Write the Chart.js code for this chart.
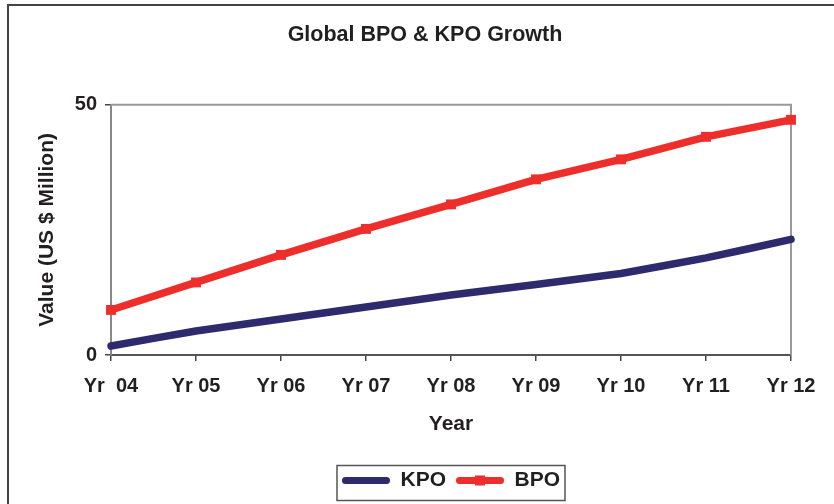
<!DOCTYPE html>
<html>
<head>
<meta charset="utf-8">
<title>Global BPO & KPO Growth</title>
<script src="https://cdn.jsdelivr.net/npm/chart.js@4/dist/chart.umd.min.js"></script>
<style>
  html, body { margin: 0; padding: 0; background: #fff; }
  #wrap { width: 834px; height: 504px; }
</style>
</head>
<body>
<div id="wrap"><canvas id="chart" width="834" height="504"></canvas></div>
<script>
// Years on the horizontal axis
const years = ['Yr  04', 'Yr 05', 'Yr 06', 'Yr 07', 'Yr 08', 'Yr 09', 'Yr 10', 'Yr 11', 'Yr 12'];
// Market value, US $ million
const kpoValues = [1.8, 4.8, 7.2, 9.6, 12.0, 14.1, 16.3, 19.4, 23.1];
const bpoValues = [9.0, 14.5, 20.0, 25.2, 30.1, 35.1, 39.1, 43.6, 47.0];
// Value axis ticks
const valueTicks = [0, 50];

const FONT = '"Liberation Sans", Arial, Helvetica, sans-serif';
const TEXT = '#231f20';
const KPO_COLOR = '#2e2a6e';
const BPO_COLOR = '#ee2e2a';

// Frame around the whole figure, top/right edges of the plot, and the legend box
const framePlugin = {
  id: 'frames',
  afterLayout(chart) {
    // centre the heading over the inner figure frame
    const t = chart.titleBlock;
    if (t) { t.left = 16; t.right = 834; }
  },
  beforeDatasetsDraw(chart) {
    const { ctx, chartArea: a } = chart;
    ctx.save();
    ctx.strokeStyle = '#9a9a9a';
    ctx.lineWidth = 2;
    ctx.beginPath();
    ctx.moveTo(a.left, a.top);
    ctx.lineTo(a.right, a.top);
    ctx.lineTo(a.right, a.bottom);
    ctx.stroke();
    ctx.restore();
  },
  afterDraw(chart) {
    const { ctx } = chart;
    ctx.save();
    ctx.strokeStyle = '#444';
    ctx.lineWidth = 2;
    ctx.strokeRect(8, 5, 900, 600);

    const hb = chart.legend.legendHitBoxes;
    if (hb && hb.length) {
      const first = hb[0], last = hb[hb.length - 1];
      const cy = first.top + first.height / 2;
      ctx.strokeStyle = '#555';
      ctx.lineWidth = 1.5;
      ctx.strokeRect(first.left - 5, cy - 15, (last.left + last.width + 5) - (first.left - 5), 35);
      // marker on the BPO legend line
      const b = hb[1];
      const bw = chart.legend.options.labels.boxWidth;
      ctx.fillStyle = BPO_COLOR;
      ctx.fillRect(b.left + bw / 2 - 5, cy - 5, 10, 10);
    }
    ctx.restore();
  }
};

new Chart(document.getElementById('chart'), {
  type: 'line',
  data: {
    labels: years,
    datasets: [
      {
        label: 'KPO',
        data: kpoValues,
        borderColor: KPO_COLOR,
        backgroundColor: KPO_COLOR,
        borderWidth: 7.5,
        borderCapStyle: 'round',
        borderJoinStyle: 'round',
        pointRadius: 0,
        tension: 0.1,
        clip: false
      },
      {
        label: 'BPO',
        data: bpoValues,
        borderColor: BPO_COLOR,
        backgroundColor: BPO_COLOR,
        borderWidth: 7.5,
        borderJoinStyle: 'round',
        pointStyle: 'rect',
        pointRadius: 7,
        pointBorderWidth: 0,
        tension: 0,
        clip: false
      }
    ]
  },
  options: {
    responsive: false,
    animation: false,
    layout: { padding: { left: 0, right: 43, top: 0, bottom: 3 } },
    plugins: {
      tooltip: { enabled: false },
      title: {
        display: true,
        text: 'Global BPO & KPO Growth',
        color: TEXT,
        font: { family: FONT, size: 21.5, weight: 'bold' },
        padding: { top: 22, bottom: 57 }
      },
      legend: {
        position: 'bottom',
        fullSize: false,
        labels: {
          color: TEXT,
          font: { family: FONT, size: 21, weight: 'bold' },
          boxWidth: 48,
          boxHeight: 7,
          padding: 10,
          useBorderRadius: true,
          borderRadius: 3.5,
          generateLabels(chart) {
            return Chart.defaults.plugins.legend.labels.generateLabels(chart)
              .map(item => Object.assign(item, { lineWidth: 0, strokeStyle: 'rgba(0,0,0,0)' }));
          }
        }
      }
    },
    scales: {
      x: {
        offset: false,
        grid: {
          display: true,
          drawOnChartArea: false,
          drawTicks: true,
          tickLength: 6,
          color: '#444',
          lineWidth: 1.5
        },
        border: { display: true, color: '#555', width: 2 },
        ticks: {
          color: TEXT,
          font: { family: FONT, size: 20, weight: 'bold' },
          padding: 13,
          maxRotation: 0,
          autoSkip: false
        },
        title: {
          display: true,
          text: 'Year',
          color: TEXT,
          font: { family: FONT, size: 21, weight: 'bold' },
          padding: { top: 0, bottom: 23 }
        },
        afterFit(scale) { scale.height = 105; }
      },
      y: {
        min: valueTicks[0],
        max: valueTicks[valueTicks.length - 1],
        afterBuildTicks(scale) { scale.ticks = valueTicks.map(v => ({ value: v })); },
        grid: {
          display: true,
          drawOnChartArea: false,
          drawTicks: true,
          tickLength: 6,
          color: '#444',
          lineWidth: 1.5
        },
        border: { display: true, color: '#888', width: 2 },
        ticks: {
          color: TEXT,
          font: { family: FONT, size: 20, weight: 'bold' },
          padding: 8
        },
        title: {
          display: true,
          text: 'Value (US $ Million)',
          color: TEXT,
          font: { family: FONT, size: 21, weight: 'bold' },
          padding: { top: 35, bottom: 0 }
        },
        afterFit(scale) { scale.width = 111; }
      }
    }
  },
  plugins: [framePlugin]
});
</script>
</body>
</html>
